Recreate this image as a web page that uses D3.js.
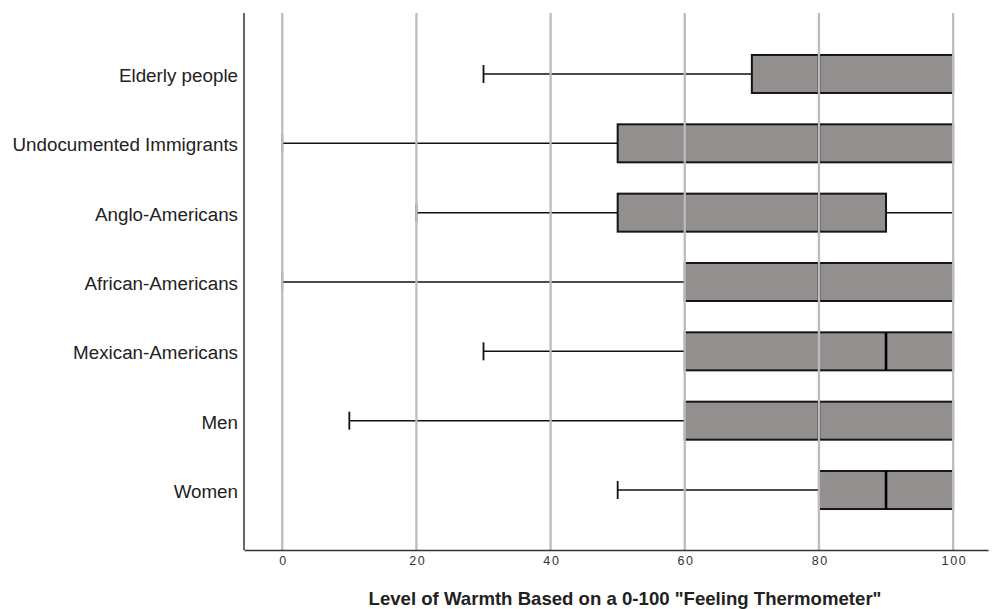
<!DOCTYPE html>
<html lang="en">
<head>
	<meta charset="UTF-8">
	<title>Feeling Thermometer Box Plot</title>
	<script type="text/javascript" src="https://cdn.jsdelivr.net/npm/d3@7/dist/d3.min.js"></script>
	<style>
		body {
			margin: 0;
			background: #fff;
		}

		svg text {
			font-family: "Liberation Sans", Arial, sans-serif;
			fill: #222;
		}
	</style>
</head>
<body>
<div id="chart"></div>

<script type="text/javascript">
	// groups, top to bottom
	var groups = ['Elderly people', 'Undocumented Immigrants', 'Anglo-Americans',
		'African-Americans', 'Mexican-Americans', 'Men', 'Women'];

	// five-number summaries
	var whiskerLow = [30, 0, 20, 0, 30, 10, 50];
	var q1 = [70, 50, 50, 60, 60, 60, 80];
	var median = [80, 80, 80, 80, 90, 80, 90];
	var q3 = [100, 100, 90, 100, 100, 100, 100];
	var whiskerHigh = [100, 100, 100, 100, 100, 100, 100];

	var tickVals = [0, 20, 40, 60, 80, 100];
	var xTitle = 'Level of Warmth Based on a 0-100 "Feeling Thermometer"';

	var W = 992, H = 609;
	var plot = {left: 244, right: 988, top: 13, bottom: 550};
	var boxHalf = 19;

	var data = groups.map(function (g, i) {
		return {
			name: g,
			lo: whiskerLow[i],
			q1: q1[i],
			med: median[i],
			q3: q3[i],
			hi: whiskerHigh[i]
		};
	});

	var svg = d3.select('#chart')
		.append('svg')
		.attr('width', W)
		.attr('height', H);

	var x = d3.scaleLinear()
		.domain([-5.7, 105.2])
		.range([plot.left, plot.right]);

	var y = d3.scaleBand()
		.domain(groups)
		.range([39.3, 524.7]);

	function cy(d) {
		return y(d.name) + y.bandwidth() / 2;
	}

	// whiskers
	var wh = svg.append('g').attr('class', 'whiskers')
		.attr('stroke', '#111')
		.attr('stroke-width', 1.5);

	wh.selectAll('.w-low')
		.data(data)
		.enter().append('line')
		.attr('x1', function (d) { return x(d.lo); })
		.attr('x2', function (d) { return x(d.q1); })
		.attr('y1', cy)
		.attr('y2', cy);

	wh.selectAll('.w-high')
		.data(data)
		.enter().append('line')
		.attr('x1', function (d) { return x(d.q3); })
		.attr('x2', function (d) { return x(d.hi); })
		.attr('y1', cy)
		.attr('y2', cy);

	wh.selectAll('.cap-low')
		.data(data)
		.enter().append('line')
		.attr('x1', function (d) { return x(d.lo); })
		.attr('x2', function (d) { return x(d.lo); })
		.attr('y1', function (d) { return cy(d) - 9; })
		.attr('y2', function (d) { return cy(d) + 9; })
		.attr('stroke-width', 1.8);

	// boxes
	svg.append('g').selectAll('rect')
		.data(data)
		.enter().append('rect')
		.attr('x', function (d) { return x(d.q1); })
		.attr('width', function (d) { return x(d.q3) - x(d.q1); })
		.attr('y', function (d) { return cy(d) - boxHalf; })
		.attr('height', boxHalf * 2)
		.attr('fill', '#938f8e')
		.attr('stroke', '#151515')
		.attr('stroke-width', 2);

	// medians
	svg.append('g').selectAll('line')
		.data(data)
		.enter().append('line')
		.attr('x1', function (d) { return x(d.med); })
		.attr('x2', function (d) { return x(d.med); })
		.attr('y1', function (d) { return cy(d) - boxHalf; })
		.attr('y2', function (d) { return cy(d) + boxHalf; })
		.attr('stroke', '#000')
		.attr('stroke-width', 2.6);

	// grid lines sit on top of the boxes
	svg.append('g').selectAll('line')
		.data(tickVals)
		.enter().append('line')
		.attr('x1', function (d) { return x(d); })
		.attr('x2', function (d) { return x(d); })
		.attr('y1', plot.top)
		.attr('y2', plot.bottom)
		.attr('stroke', '#bcbcbc')
		.attr('stroke-width', 2.3);

	// x axis
	var gx = svg.append('g')
		.attr('class', 'x-axis')
		.attr('transform', 'translate(0,' + plot.bottom + ')')
		.call(d3.axisBottom(x).tickValues(tickVals).tickSize(0).tickPadding(6));
	gx.select('.domain')
		.attr('stroke', '#333')
		.attr('stroke-width', 1.5);
	gx.selectAll('text')
		.style('font-family', '"Liberation Sans", Arial, sans-serif')
		.style('font-size', '12.5px')
		.style('letter-spacing', '1.6px')
		.attr('dx', '0.8px')
		.style('fill', '#333');

	// y axis line
	svg.append('line')
		.attr('x1', plot.left)
		.attr('x2', plot.left)
		.attr('y1', plot.top)
		.attr('y2', plot.bottom)
		.attr('stroke', '#333')
		.attr('stroke-width', 1.5);

	// category labels
	svg.append('g').selectAll('text')
		.data(data)
		.enter().append('text')
		.style('font-size', '18.8px')
		.attr('x', 238)
		.attr('y', cy)
		.attr('dy', '0.43em')
		.attr('text-anchor', 'end')
		.text(function (d) { return d.name; });

	svg.append('text')
		.style('font-size', '18.6px')
		.style('font-weight', 'bold')
		.attr('x', 625)
		.attr('y', 605)
		.attr('text-anchor', 'middle')
		.text(xTitle);
</script>
</body>
</html>
